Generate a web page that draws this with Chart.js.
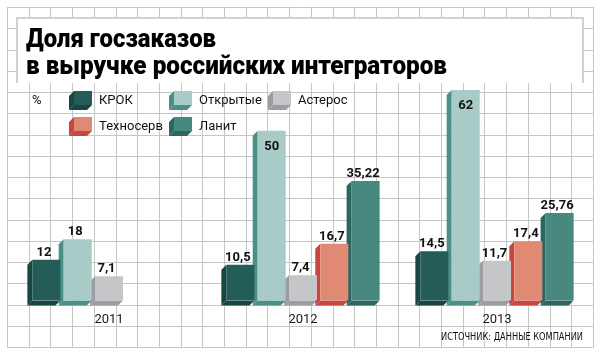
<!DOCTYPE html>
<html><head><meta charset="utf-8">
<script src="https://cdn.jsdelivr.net/npm/chart.js@4.4.1/dist/chart.umd.min.js"></script>
<style>html,body{margin:0;padding:0;background:#fff;}#wrap{width:602px;height:356px;}</style>
</head><body><div id="wrap"><canvas id="c" width="602" height="356"></canvas></div>
<script>
// ---- data ----
const categories = ['2011', '2012', '2013'];
const seriesNames = ['КРОК', 'Открытые', 'Астерос', 'Техносерв', 'Ланит'];
const krok = [12, 10.5, 14.5];
const otkrytye = [18, 50, 62];
const asteros = [7.1, 7.4, 11.7];
const tekhnoserv = [null, 16.7, 17.4];
const lanit = [null, 35.22, 25.76];
const titleLines = ['Доля госзаказов', 'в выручке российских интеграторов'];
const unitLabel = '%';
const sourceText = 'ИСТОЧНИК: ДАННЫЕ КОМПАНИИ';

// ---- styles ----
const frontColors = ['#245c58', '#a8cbc7', '#c5c6c8', '#e08a74', '#47897f'];
const sideColors = ['#194542', '#4b9088', '#9c9da0', '#c8463f', '#2c6660'];
const DEPTH = 5;

function fmt(v) { return String(v).replace('.', ','); }

function fillFit(ctx, text, x, y, w, align) {
  const m = ctx.measureText(text).width;
  const s = w / m;
  ctx.save();
  ctx.translate(x, y);
  ctx.scale(s, 1);
  ctx.textAlign = 'left';
  ctx.fillText(text, align === 'right' ? -m : 0, 0);
  ctx.restore();
}

function cube(ctx, left, top, w, h, d, front, side) {
  const bottom = top + h;
  ctx.fillStyle = side;
  ctx.beginPath();
  ctx.moveTo(left, top); ctx.lineTo(left - d, top + d);
  ctx.lineTo(left - d, bottom + d); ctx.lineTo(left, bottom); ctx.closePath(); ctx.fill();
  ctx.beginPath();
  ctx.moveTo(left, bottom); ctx.lineTo(left + w, bottom);
  ctx.lineTo(left + w - d, bottom + d); ctx.lineTo(left - d, bottom + d); ctx.closePath(); ctx.fill();
  if (front) { ctx.fillStyle = front; ctx.fillRect(left, top, w, h); }
}

const bgPlugin = {
  id: 'bg',
  beforeDraw(chart) {
    const ctx = chart.ctx;
    ctx.save();
    ctx.fillStyle = '#fff';
    ctx.fillRect(0, 0, chart.width, chart.height);
    ctx.strokeStyle = '#c6c6c6';
    ctx.lineWidth = 1;
    ctx.beginPath();
    for (let i = 0; i <= 27; i++) {
      const x = Math.round(7 + i * 21.7) + 0.5;
      ctx.moveTo(x, 7); ctx.lineTo(x, 347.5);
    }
    for (let j = 0; j <= 16; j++) {
      const y = Math.round(7 + j * 21.25) + 0.5;
      ctx.moveTo(7, y); ctx.lineTo(593.5, y);
    }
    ctx.stroke();
    // title box
    ctx.fillStyle = '#fff';
    ctx.fillRect(17, 18, 566, 65);
    ctx.strokeStyle = '#d2d2d2';
    ctx.lineWidth = 2;
    ctx.beginPath();
    ctx.moveTo(17, 83); ctx.lineTo(17, 18); ctx.lineTo(583, 18); ctx.lineTo(583, 83);
    ctx.stroke();
    ctx.restore();
  },
  afterDraw(chart) {
    const ctx = chart.ctx;
    ctx.save();
    ctx.fillStyle = '#000';
    ctx.textBaseline = 'alphabetic';
    ctx.font = '900 25px Roboto, "Liberation Sans", Arial, sans-serif';
    fillFit(ctx, titleLines[0], 26, 47, 190);
    fillFit(ctx, titleLines[1], 26, 74, 421);
    // legend
    ctx.fillStyle = '#111';
    ctx.font = '13px Roboto, sans-serif';
    ctx.textBaseline = 'middle';
    ctx.fillText(unitLabel, 32, 101);
    const pos = [[74, 91], [174, 91], [273, 91], [74, 117], [174, 117]];
    chart.data.datasets.forEach((ds, i) => {
      const [lx, ly] = pos[i];
      cube(ctx, lx, ly, 18, 14, DEPTH, ds.backgroundColor, sideColors[i]);
      ctx.fillStyle = '#111';
      ctx.fillText(ds.label, lx + 25, ly + 10);
    });
    // source
    ctx.font = '11px "Liberation Sans Narrow", "DejaVu Sans Condensed", sans-serif';
    ctx.textBaseline = 'alphabetic';
    ctx.fillStyle = '#111';
    fillFit(ctx, sourceText, 583, 340, 142, 'right');
    ctx.restore();
  }
};

const bar3dPlugin = {
  id: 'bar3d',
  beforeDatasetsDraw(chart) {
    const ctx = chart.ctx;
    ctx.save();
    chart.data.datasets.forEach((ds, i) => {
      const meta = chart.getDatasetMeta(i);
      meta.data.forEach((el, j) => {
        if (ds.data[j] == null) return;
        const p = el.getProps(['x', 'y', 'base', 'width'], true);
        const left = p.x - p.width / 2;
        cube(ctx, left, p.y, p.width, p.base - p.y, DEPTH, null, sideColors[i]);
      });
    });
    ctx.restore();
  },
  afterDatasetsDraw(chart) {
    const ctx = chart.ctx;
    ctx.save();
    ctx.font = 'bold 13px Roboto, sans-serif';
    ctx.fillStyle = '#111';
    ctx.textAlign = 'center';
    ctx.textBaseline = 'alphabetic';
    chart.data.datasets.forEach((ds, i) => {
      const meta = chart.getDatasetMeta(i);
      meta.data.forEach((el, j) => {
        const v = ds.data[j];
        if (v == null) return;
        const p = el.getProps(['x', 'y', 'width'], true);
        if (v > 45) {
          ctx.fillText(fmt(v), p.x, p.y + 19);
        } else {
          ctx.fillText(fmt(v), p.x - DEPTH / 2, p.y - 4);
        }
      });
    });
    ctx.restore();
  }
};

const seriesData = [krok, otkrytye, asteros, tekhnoserv, lanit];

new Chart(document.getElementById('c'), {
  type: 'bar',
  data: {
    labels: categories,
    datasets: seriesNames.map((name, i) => ({
      label: name,
      data: seriesData[i],
      backgroundColor: frontColors[i],
      borderWidth: 0,
      categoryPercentage: 0.807,
      barPercentage: 0.895
    }))
  },
  options: {
    responsive: false,
    animation: false,
    layout: { padding: { left: 12, right: 8, top: 29, bottom: 16 } },
    plugins: { legend: { display: false }, tooltip: { enabled: false } },
    scales: {
      x: {
        grid: { display: false, drawTicks: false },
        border: { display: false },
        ticks: { padding: 12, color: '#1a1a1a', font: { family: 'Roboto', size: 13 } }
      },
      y: { display: false, min: 0, max: 80 }
    }
  },
  plugins: [bgPlugin, bar3dPlugin]
});
</script>
</body></html>
